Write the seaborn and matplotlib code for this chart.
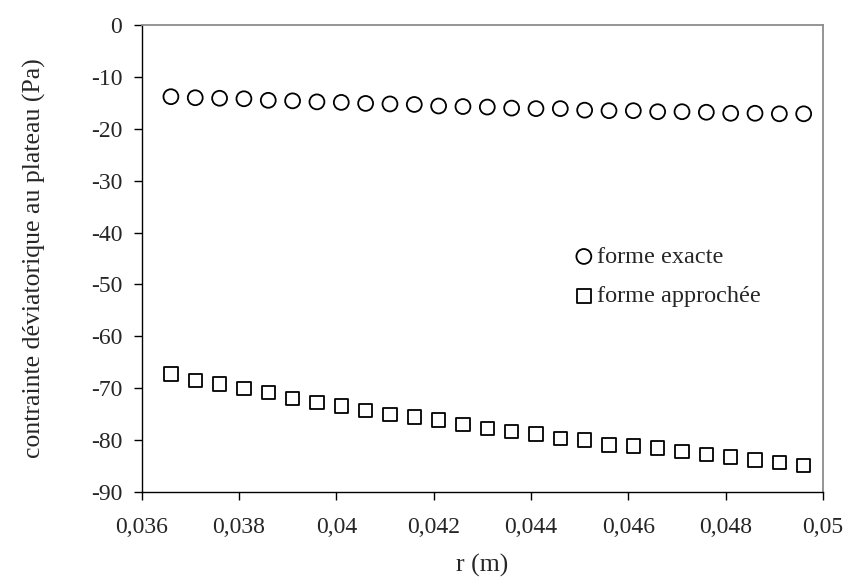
import numpy as np
import pandas as pd
import matplotlib
matplotlib.use("Agg")
import matplotlib.pyplot as plt
import seaborn as sns

# rayon (m)
r = [0.0366, 0.0371, 0.0376, 0.0381, 0.0386, 0.0391, 0.0396, 0.0401, 0.0406,
     0.0411, 0.0416, 0.0421, 0.0426, 0.0431, 0.0436, 0.0441, 0.0446, 0.0451,
     0.0456, 0.0461, 0.0466, 0.0471, 0.0476, 0.0481, 0.0486, 0.0491, 0.0496]

# contrainte deviatorique (Pa)
exacte = [-13.8, -14.0, -14.1, -14.2, -14.5, -14.6, -14.8, -14.9, -15.1,
          -15.2, -15.3, -15.6, -15.7, -15.8, -16.0, -16.1, -16.1, -16.4,
          -16.5, -16.5, -16.7, -16.7, -16.8, -17.0, -17.0, -17.1, -17.1]
approchee = [-67.3, -68.6, -69.2, -70.1, -70.8, -72.0, -72.8, -73.5, -74.3,
             -75.1, -75.6, -76.2, -77.0, -77.8, -78.4, -78.9, -79.7, -80.0,
             -81.0, -81.2, -81.6, -82.3, -82.8, -83.3, -83.9, -84.4, -84.9]

x_ticks = [0.036, 0.038, 0.040, 0.042, 0.044, 0.046, 0.048, 0.050]
x_labels = ["0,036", "0,038", "0,04", "0,042", "0,044", "0,046", "0,048", "0,05"]
y_ticks = [0, -10, -20, -30, -40, -50, -60, -70, -80, -90]

sns.set_style("ticks")
plt.rcParams["font.family"] = ["Liberation Serif", "DejaVu Serif"]
plt.rcParams["font.size"] = 16

fig, ax = plt.subplots(figsize=(8.46, 5.85), dpi=100)
fig.subplots_adjust(left=0.1675, right=0.973, top=0.957, bottom=0.1595)

sns.scatterplot(x=r, y=exacte, ax=ax, marker="o", s=115,
                facecolors="none", edgecolor="black", linewidth=1.3,
                label="forme exacte")
sns.scatterplot(x=r, y=approchee, ax=ax, marker="s", s=92,
                facecolors="none", edgecolor="black", linewidth=1.3,
                label="forme approchée")

ax.set_xlim(0.036, 0.050)
ax.set_ylim(-90, 0)
ax.set_xticks(x_ticks)
ax.set_xticklabels(x_labels)
ax.set_yticks(y_ticks)
ax.set_yticklabels([str(v) for v in y_ticks])
ax.tick_params(direction="out", length=6, width=1, color="black",
               labelsize=17, pad=8)
ax.tick_params(axis="x", pad=12)

ax.set_xlabel("r (m)", fontsize=18.5, labelpad=12)
ax.set_ylabel("contrainte déviatorique au plateau (Pa)", fontsize=18.5, labelpad=32)

for side in ["left", "bottom"]:
    ax.spines[side].set_color("black")
    ax.spines[side].set_linewidth(1.0)
for side in ["top", "right"]:
    ax.spines[side].set_visible(True)
    ax.spines[side].set_color("#8c8c8c")
    ax.spines[side].set_linewidth(1.3)

leg = ax.legend(loc="upper left", bbox_to_anchor=(0.631, 0.527), frameon=False,
                fontsize=17.5, handletextpad=0.03, labelspacing=0.72,
                borderpad=0, borderaxespad=0, handlelength=1.0)

fig.savefig("out.png", dpi=100)
